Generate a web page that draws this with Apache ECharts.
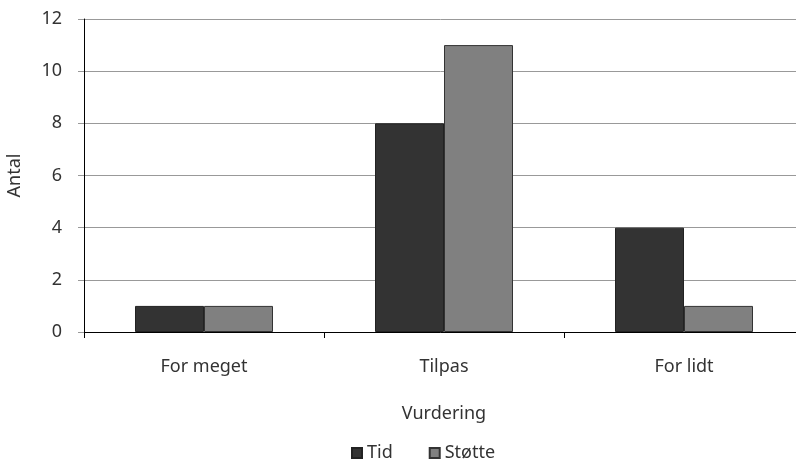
<!DOCTYPE html>
<html><head><meta charset="utf-8">
<script src="https://cdn.jsdelivr.net/npm/echarts@6/dist/echarts.min.js"></script>
<style>html,body{margin:0;padding:0;background:#fff}#c{width:796px;height:461px}</style>
</head><body><div id="c"></div>
<script>
const categories = ['For meget', 'Tilpas', 'For lidt'];
const tid = [1, 8, 4];
const stotte = [1, 11, 1];
const seriesNames = ['Tid', 'Støtte'];
const yTicks = [0, 2, 4, 6, 8, 10, 12];

const font = 'Noto Sans';
const fs = 18;
const col = '#333';
const chart = echarts.init(document.getElementById('c'), null, {renderer: 'canvas'});
chart.setOption({
  animation: false,
  textStyle: {fontFamily: font},
  grid: {left: 84, top: 19, right: -8, bottom: 129, containLabel: false, outerBoundsMode: 'none'},
  legend: {
    bottom: -1, left: 351, itemWidth: 10, itemHeight: 10, itemGap: 36, padding: 0,
    textStyle: {fontFamily: font, fontSize: fs, color: col},
    icon: 'rect',
    data: seriesNames
  },
  xAxis: {
    type: 'category', data: categories,
    name: 'Vurdering', nameLocation: 'middle', nameGap: 73,
    nameTextStyle: {fontFamily: font, fontSize: fs, color: col},
    axisLine: {lineStyle: {color: '#000', width: 1}},
    axisTick: {show: true, length: 6, lineStyle: {color: '#000'}},
    axisLabel: {fontFamily: font, fontSize: fs, color: col, margin: 26}
  },
  yAxis: {
    type: 'value', min: 0, max: 12, interval: 2,
    name: 'Antal', nameLocation: 'middle', nameGap: 60, nameRotate: 90,
    nameTextStyle: {fontFamily: font, fontSize: fs, color: col},
    axisLine: {show: true, lineStyle: {color: '#000', width: 1}},
    axisTick: {show: true, length: 6, lineStyle: {color: '#999'}},
    axisLabel: {fontFamily: font, fontSize: fs, color: col, margin: 22,
      formatter: v => yTicks.includes(v) ? String(v) : ''},
    splitLine: {lineStyle: {color: '#999', width: 1}}
  },
  series: [
    {name: seriesNames[0], type: 'bar', data: tid, barGap: '0%', barCategoryGap: '42.5%',
     itemStyle: {color: '#333333', borderColor: '#222', borderWidth: 1}},
    {name: seriesNames[1], type: 'bar', data: stotte, barGap: '0%', barCategoryGap: '42.5%',
     itemStyle: {color: '#808080', borderColor: '#333', borderWidth: 1}}
  ]
});
</script></body></html>
